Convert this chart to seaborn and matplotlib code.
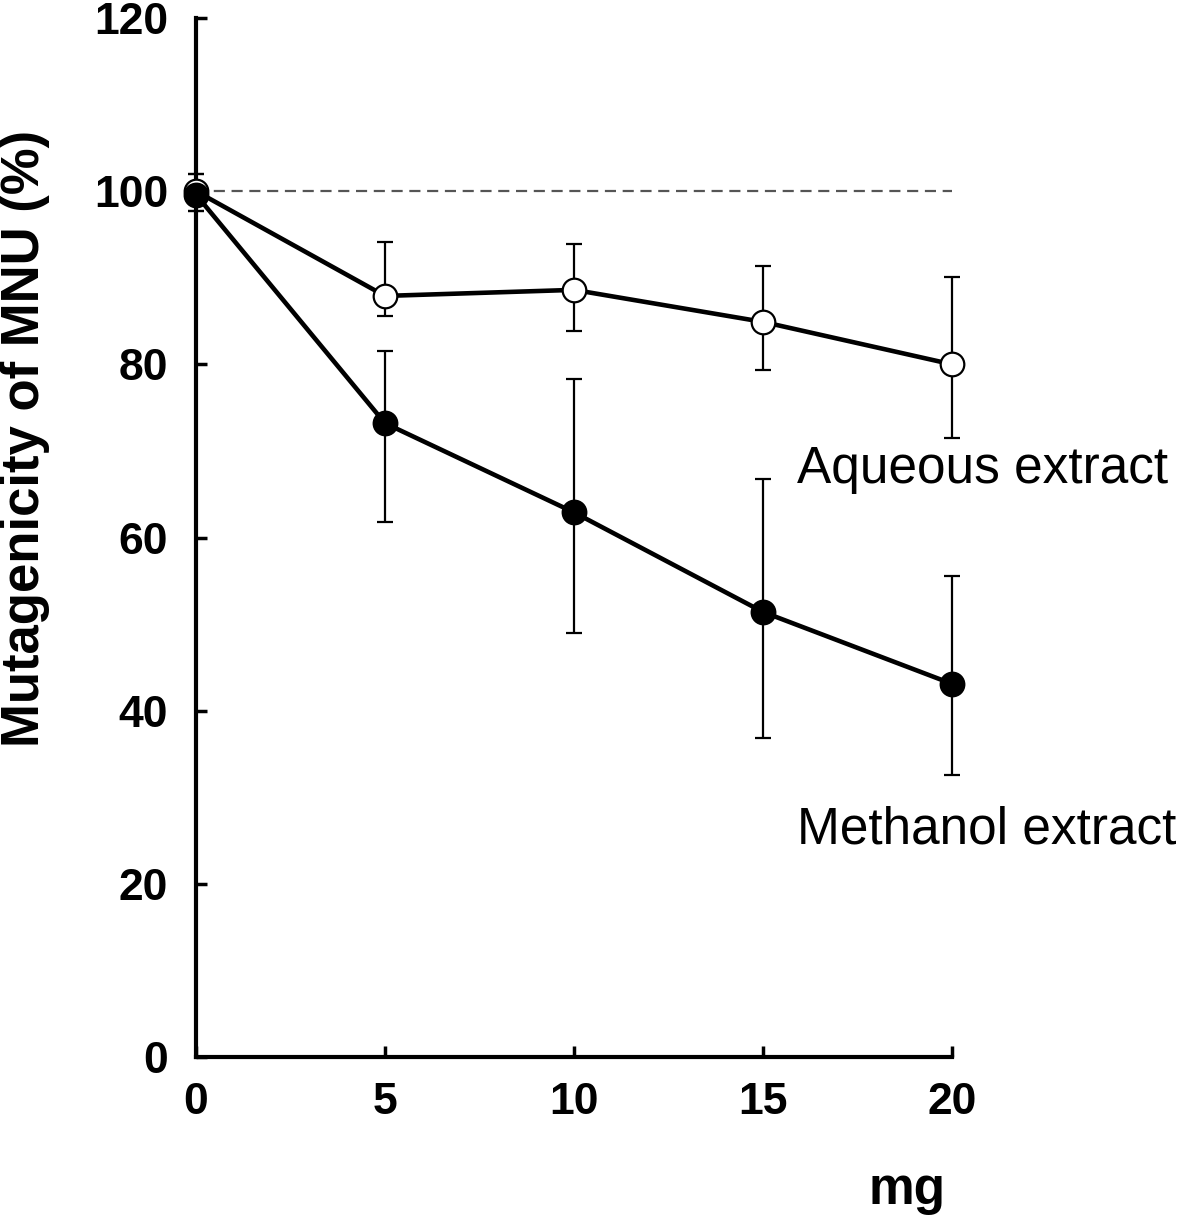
import numpy as np
import pandas as pd
import matplotlib
matplotlib.use("Agg")
import matplotlib.pyplot as plt
import seaborn as sns

# values
doses = [0, 5, 10, 15, 20]
aqueous_mean = [100.0, 87.9, 88.6, 84.9, 80.0]
aqueous_low = [97.7, 85.6, 83.9, 79.3, 71.5]
aqueous_high = [102.0, 94.1, 93.9, 91.4, 90.1]
methanol_mean = [99.6, 73.2, 62.9, 51.4, 43.1]
methanol_low = [97.7, 61.8, 49.0, 36.9, 32.6]
methanol_high = [102.0, 81.5, 78.3, 66.8, 55.5]
control_level = 100

sns.set_style("white")
plt.rcParams["font.family"] = ["Liberation Sans", "DejaVu Sans"]
plt.rcParams["text.color"] = "black"
plt.rcParams["axes.labelcolor"] = "black"

df = pd.DataFrame({
    "dose": doses * 2,
    "value": aqueous_mean + methanol_mean,
    "extract": ["Aqueous extract"] * 5 + ["Methanol extract"] * 5,
})

fig = plt.figure(figsize=(11.81, 12.16), dpi=100)
ax = fig.add_axes([196 / 1181, 1 - 1057 / 1216, 756 / 1181, 1039 / 1216])

# dashed control line
ax.plot([0, 20], [control_level, control_level], color="#555555", lw=1.6,
        linestyle=(0, (5, 3)), zorder=1)

# error bars
for mean, lo, hi in [(aqueous_mean, aqueous_low, aqueous_high),
                     (methanol_mean, methanol_low, methanol_high)]:
    m = np.array(mean)
    yerr = [m - np.array(lo), np.array(hi) - m]
    eb = ax.errorbar(doses, m, yerr=yerr, fmt="none", ecolor="black",
                     elinewidth=1.6, capsize=5.5, capthick=1.6, zorder=2)
    for part in eb.lines[1] + eb.lines[2]:
        part.set_clip_on(False)

sns.lineplot(data=df[df.extract == "Aqueous extract"], x="dose", y="value",
             color="black", lw=3.3, marker="o", markersize=17,
             markerfacecolor="white", markeredgecolor="black",
             markeredgewidth=1.6, ax=ax, zorder=3, clip_on=False)
sns.lineplot(data=df[df.extract == "Methanol extract"], x="dose", y="value",
             color="black", lw=3.3, marker="o", markersize=17,
             markerfacecolor="black", markeredgecolor="black",
             markeredgewidth=1.6, ax=ax, zorder=4, clip_on=False)

ax.set_xlim(0, 20)
ax.set_ylim(0, 120)
ax.set_xticks(doses)
ax.set_yticks(range(0, 121, 20))
sns.despine(ax=ax)
for s in ["left", "bottom"]:
    ax.spines[s].set_linewidth(3)
    ax.spines[s].set_color("black")

ax.tick_params(axis="both", direction="in", length=8, width=2.5,
               labelsize=32, colors="black", bottom=True, left=True)
ax.tick_params(axis="x", pad=18)
ax.tick_params(axis="y", pad=20)
for lab in ax.get_xticklabels() + ax.get_yticklabels():
    lab.set_fontweight("bold")

ax.set_ylabel("Mutagenicity of MNU (%)", fontsize=38, fontweight="bold")
ax.yaxis.set_label_coords(-0.193, 0.595)
ax.set_xlabel("mg", fontsize=37, fontweight="bold")
ax.xaxis.set_label_coords(0.94, -0.105)

ax.text(15.9, 67.8, "Aqueous extract", fontsize=37, va="center", ha="left",
        color="black", clip_on=False)
ax.text(15.9, 26.2, "Methanol extract", fontsize=37, va="center", ha="left",
        color="black", clip_on=False)

ax.grid(False)
fig.savefig("out.png", dpi=100)
